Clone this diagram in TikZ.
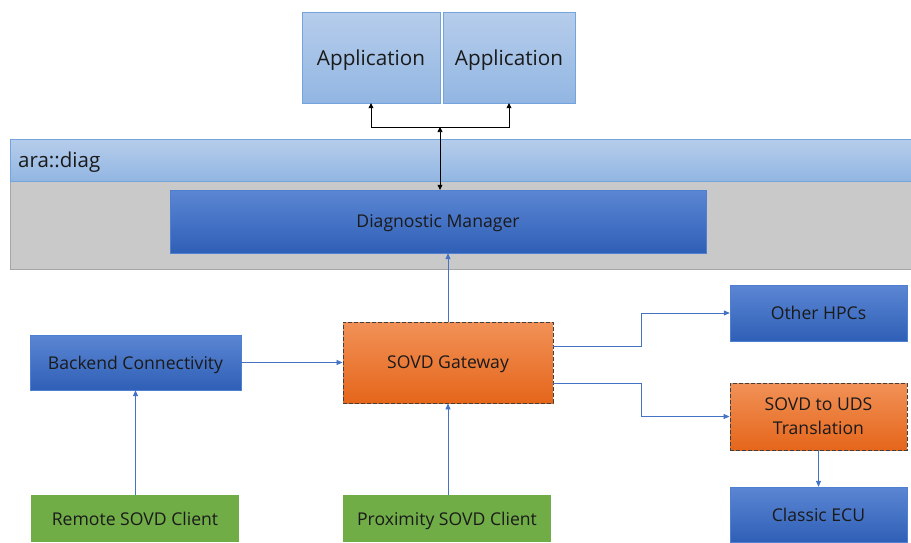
\documentclass[tikz,border=0pt]{standalone}
\usepackage{fontspec}
\setmainfont{Open Sans}
\usetikzlibrary{arrows.meta}
\definecolor{appTop}{HTML}{B6CDEB}
\definecolor{appBot}{HTML}{92B6E2}
\definecolor{appEdge}{HTML}{74A4DD}
\definecolor{greyFill}{HTML}{C9C9C9}
\definecolor{greyEdge}{HTML}{A6A6A6}
\definecolor{blueTop}{HTML}{5B86D3}
\definecolor{blueBot}{HTML}{2F5FB6}
\definecolor{blueEdge}{HTML}{4E7FD0}
\definecolor{orTop}{HTML}{F19157}
\definecolor{orBot}{HTML}{E5661B}
\definecolor{greenFill}{HTML}{70AD47}
\definecolor{link}{HTML}{4472C4}
\definecolor{textc}{HTML}{1A1A1A}
\tikzset{
  appbox/.style={draw=appEdge, top color=appTop, bottom color=appBot, text=textc, text depth=0pt, font=\fontsize{20.7}{23}\selectfont},
  bluebox/.style={draw=blueEdge, top color=blueTop, bottom color=blueBot, text=textc, text depth=0pt, font=\fontsize{17.6}{21}\selectfont},
  orangebox/.style={draw=black!75, dash pattern=on 4pt off 2pt, line width=0.9pt, top color=orTop, bottom color=orBot, text=textc, font=\fontsize{17.6}{24}\selectfont, align=center},
  greenbox/.style={fill=greenFill, text=textc, text depth=0pt, font=\fontsize{17.6}{21}\selectfont},
  blk/.style={draw=black, line width=0.7pt, -{Triangle[length=5pt,width=5pt]}},
  blu/.style={draw=link, line width=0.8pt, -{Triangle[length=6pt,width=5pt]}},
}
\begin{document}
\begin{tikzpicture}[x=1pt,y=-1pt]
\useasboundingbox (0,0) rectangle (911,542);
% bands
\node[draw=greyEdge, fill=greyFill, minimum width=901pt, minimum height=88pt, inner sep=0pt] (grey) at (460.5,225) {};
\node[draw=appEdge, top color=appTop, bottom color=appBot, minimum width=901pt, minimum height=42pt, inner sep=0pt] (ara) at (460.5,160) {};
\node[anchor=west, text=textc, text depth=0pt, font=\fontsize{20.5}{23}\selectfont, inner sep=0pt] (aratext) at (18,160) {ara::diag};
% apps
\node[appbox, minimum width=138pt, minimum height=91pt] (app1) at (371,57.5) {Application};
\node[appbox, minimum width=132pt, minimum height=91pt] (app2) at (509,57.5) {Application};
% diag manager
\node[bluebox, minimum width=536pt, minimum height=63pt] (dm) at (438,221.5) {Diagnostic Manager};
% lower boxes
\node[bluebox, minimum width=211pt, minimum height=55pt] (backend) at (135.5,362.5) {Backend Connectivity};
\node[orangebox, text depth=0pt, minimum width=210pt, minimum height=81pt] (gw) at (448,362.5) {SOVD Gateway};
\node[bluebox, minimum width=177pt, minimum height=56pt] (hpc) at (818.5,313) {Other HPCs};
\node[orangebox, minimum width=177pt, minimum height=67pt] (uds) at (818.5,416.5) {SOVD to UDS\\Translation};
\node[bluebox, minimum width=177pt, minimum height=55pt] (ecu) at (818.5,514.5) {Classic ECU};
\node[greenbox, minimum width=208pt, minimum height=47pt] (remote) at (135,518.5) {Remote SOVD Client};
\node[greenbox, minimum width=208pt, minimum height=47pt] (prox) at (447,518.5) {Proximity SOVD Client};
% black arrows
\coordinate (j) at (440,127);
\draw[blk, {Triangle[length=5pt,width=5pt]}-{Triangle[length=5pt,width=5pt]}] (j) -- (j |- dm.north);
\draw[blk] (j) -| (app1.south);
\draw[blk] (j) -| (app2.south);
% blue connectors
\draw[blu] (gw.north) -- (gw.north |- dm.south);
\draw[blu] (backend.east) -- (backend.east -| gw.west);
\draw[blu] (remote.north -| backend.south) -- (backend.south);
\draw[blu] (prox.north -| gw.south) -- (gw.south);
\draw[blu] ([yshift=16.5pt]gw.east) -- ++(88,0) |- (hpc.west);
\draw[blu] ([yshift=-20.5pt]gw.east) -- ++(88,0) |- (uds.west);
\draw[blu] (uds.south) -- (ecu.north);
\end{tikzpicture}
\end{document}
